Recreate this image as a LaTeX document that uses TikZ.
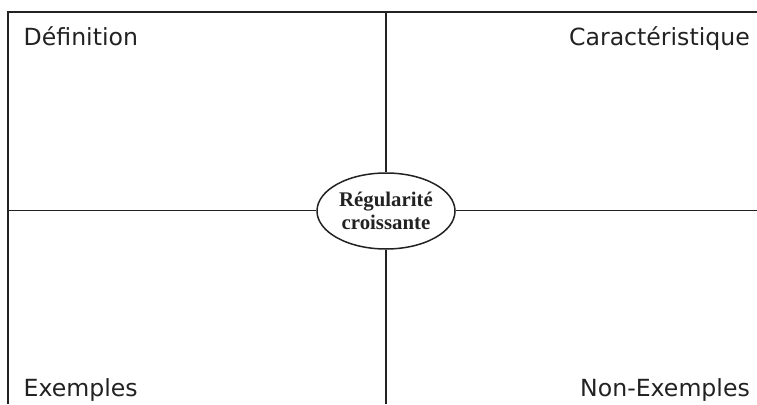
\documentclass[tikz,border=0pt]{standalone}
\usepackage{fontspec}
\setmainfont{DejaVu Sans}
\newfontfamily\serifb{Liberation Serif}
\usetikzlibrary{shapes.geometric}
\definecolor{ink}{HTML}{222222}
\tikzset{
  rule/.style={draw=ink, line width=1.5pt},
  label/.style={text=ink, font=\fontsize{23.6}{27}\selectfont, inner sep=0pt},
  center/.style={ellipse, draw=ink, line width=1.5pt, fill=white, minimum width=138pt, minimum height=76pt, inner sep=0pt, align=center, text=ink, font=\serifb\bfseries\fontsize{20.8}{22.5}\selectfont}
}
\begin{document}
\begin{tikzpicture}[x=1pt,y=-1pt]
\useasboundingbox (0,0) rectangle (757,404);
\node[center] (c) at (386,211) {Régularité\\croissante};
\coordinate (tl) at (8,12);
\coordinate (bl) at (8,404);
\coordinate (tr) at (757,12);
\coordinate (tm) at (386,12);
\coordinate (bm) at (386,404);
\coordinate (ml) at (8,210.5);
\coordinate (mr) at (757,210.5);
\draw[rule] (bl) -- (tl) -- (tr);
\draw[rule] (tm) -- (c.north);
\draw[rule] (c.south) -- (bm);
\draw[rule] (ml) -- (c.west |- ml);
\draw[rule] (c.east |- mr) -- (mr);
\node[label, anchor=base west] (def) at (23.5,46) {Définition};
\node[label, anchor=base east] (car) at (750,46) {Caractéristique};
\node[label, anchor=base west] (ex) at (23.5,396) {Exemples};
\node[label, anchor=base east] (nex) at (750,396) {Non-Exemples};
\end{tikzpicture}
\end{document}
